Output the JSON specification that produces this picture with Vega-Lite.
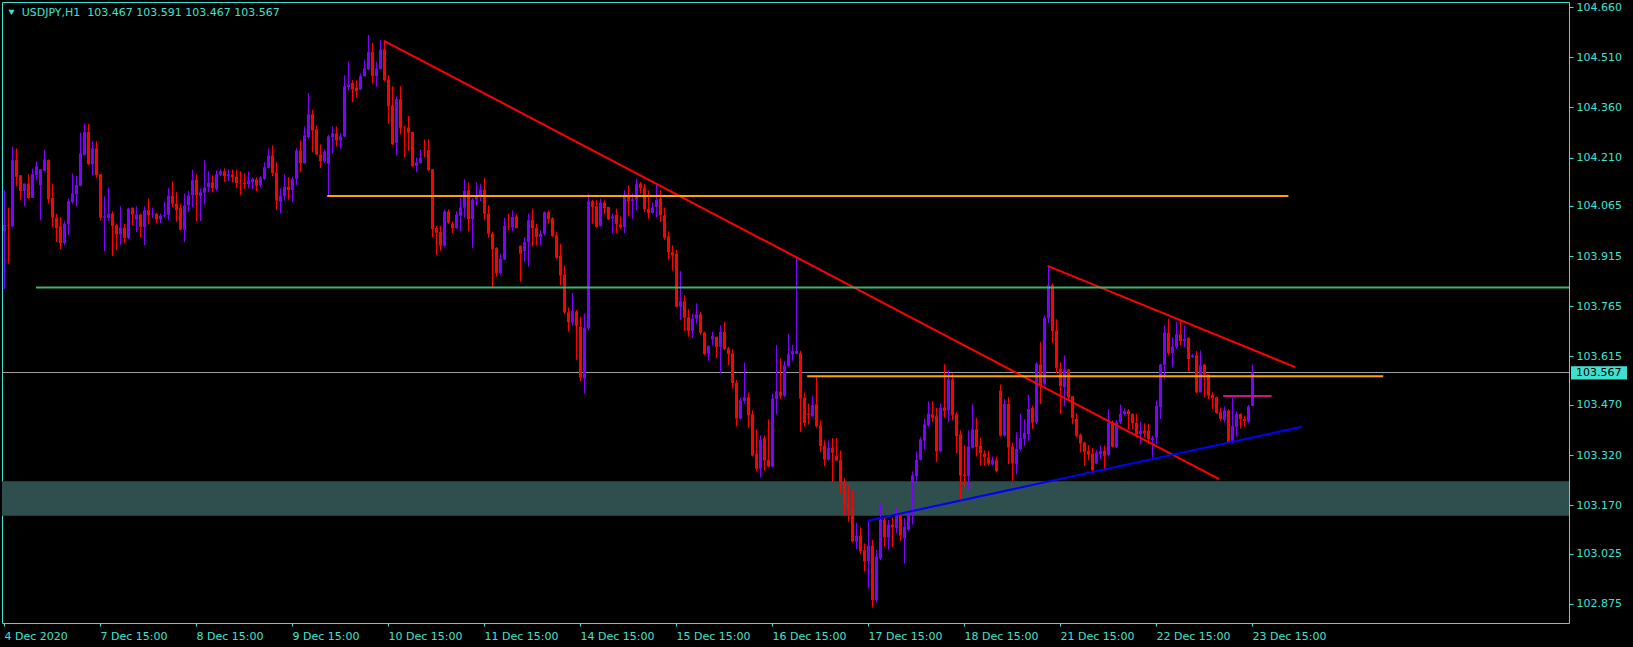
{
"$schema":"https://vega.github.io/schema/vega-lite/v6.json",
"width":1567,"height":621,
"autosize":{"type":"none"},
"padding":{"left":2,"top":2,"right":64,"bottom":24},
"background":"#000000",
"config":{"view":{"stroke":"#40E0D0","strokeWidth":1},"scale":{"continuousPadding":0},"axis":{"labelFont":"DejaVu Sans","labelFontSize":11,"labelColor":"#40E0D0","tickColor":"#40E0D0","domain":false,"grid":false,"title":null}},
"datasets":{
"candles":[
{"i":0,"o":103.989,"h":104.112,"l":103.817,"c":104.009},
{"i":1,"o":104.009,"h":104.060,"l":103.892,"c":104.006},
{"i":2,"o":104.004,"h":104.242,"l":104.002,"c":104.202},
{"i":3,"o":104.202,"h":104.237,"l":104.124,"c":104.152},
{"i":4,"o":104.157,"h":104.157,"l":104.082,"c":104.110},
{"i":5,"o":104.110,"h":104.132,"l":104.064,"c":104.132},
{"i":6,"o":104.132,"h":104.160,"l":104.086,"c":104.089},
{"i":7,"o":104.089,"h":104.177,"l":104.089,"c":104.160},
{"i":8,"o":104.157,"h":104.199,"l":104.142,"c":104.184},
{"i":9,"o":104.127,"h":104.175,"l":104.022,"c":104.175},
{"i":10,"o":104.170,"h":104.232,"l":104.170,"c":104.204},
{"i":11,"o":104.202,"h":104.204,"l":104.072,"c":104.085},
{"i":12,"o":104.089,"h":104.132,"l":104.002,"c":104.030},
{"i":13,"o":104.030,"h":104.042,"l":103.957,"c":103.999},
{"i":14,"o":104.004,"h":104.032,"l":103.936,"c":103.954},
{"i":15,"o":103.954,"h":104.019,"l":103.948,"c":104.012},
{"i":16,"o":104.011,"h":104.087,"l":103.978,"c":104.079},
{"i":17,"o":104.077,"h":104.162,"l":104.072,"c":104.102},
{"i":18,"o":104.100,"h":104.154,"l":104.064,"c":104.127},
{"i":19,"o":104.125,"h":104.284,"l":104.125,"c":104.222},
{"i":20,"o":104.217,"h":104.310,"l":104.217,"c":104.286},
{"i":21,"o":104.286,"h":104.310,"l":104.187,"c":104.190},
{"i":22,"o":104.190,"h":104.258,"l":104.157,"c":104.237},
{"i":23,"o":104.237,"h":104.258,"l":104.149,"c":104.157},
{"i":24,"o":104.160,"h":104.160,"l":104.022,"c":104.030},
{"i":25,"o":104.030,"h":104.094,"l":103.930,"c":104.034},
{"i":26,"o":104.030,"h":104.120,"l":104.020,"c":104.042},
{"i":27,"o":104.042,"h":104.049,"l":103.915,"c":104.005},
{"i":28,"o":104.007,"h":104.012,"l":103.933,"c":103.980},
{"i":29,"o":103.980,"h":104.064,"l":103.949,"c":104.000},
{"i":30,"o":104.000,"h":104.012,"l":103.954,"c":103.969},
{"i":31,"o":103.969,"h":104.060,"l":103.966,"c":104.057},
{"i":32,"o":104.060,"h":104.060,"l":104.008,"c":104.040},
{"i":33,"o":104.025,"h":104.064,"l":103.987,"c":104.040},
{"i":34,"o":104.040,"h":104.040,"l":103.972,"c":104.002},
{"i":35,"o":104.002,"h":104.064,"l":103.948,"c":104.052},
{"i":36,"o":104.052,"h":104.087,"l":104.010,"c":104.037},
{"i":37,"o":104.038,"h":104.060,"l":104.029,"c":104.040},
{"i":38,"o":104.042,"h":104.044,"l":104.013,"c":104.025},
{"i":39,"o":104.025,"h":104.042,"l":104.014,"c":104.036},
{"i":40,"o":104.036,"h":104.079,"l":104.030,"c":104.038},
{"i":41,"o":104.038,"h":104.118,"l":104.022,"c":104.096},
{"i":42,"o":104.096,"h":104.139,"l":104.062,"c":104.072},
{"i":43,"o":104.072,"h":104.106,"l":104.017,"c":104.052},
{"i":44,"o":104.059,"h":104.072,"l":103.992,"c":103.994},
{"i":45,"o":103.994,"h":104.102,"l":103.957,"c":104.066},
{"i":46,"o":104.067,"h":104.110,"l":104.047,"c":104.096},
{"i":47,"o":104.097,"h":104.174,"l":104.062,"c":104.142},
{"i":48,"o":104.144,"h":104.160,"l":104.020,"c":104.097},
{"i":49,"o":104.095,"h":104.118,"l":104.020,"c":104.106},
{"i":50,"o":104.105,"h":104.202,"l":104.069,"c":104.120},
{"i":51,"o":104.121,"h":104.169,"l":104.106,"c":104.135},
{"i":52,"o":104.136,"h":104.157,"l":104.106,"c":104.119},
{"i":53,"o":104.116,"h":104.172,"l":104.110,"c":104.160},
{"i":54,"o":104.159,"h":104.175,"l":104.154,"c":104.169},
{"i":55,"o":104.169,"h":104.177,"l":104.137,"c":104.154},
{"i":56,"o":104.155,"h":104.174,"l":104.140,"c":104.160},
{"i":57,"o":104.159,"h":104.174,"l":104.136,"c":104.151},
{"i":58,"o":104.153,"h":104.174,"l":104.121,"c":104.133},
{"i":59,"o":104.134,"h":104.168,"l":104.098,"c":104.132},
{"i":60,"o":104.135,"h":104.163,"l":104.116,"c":104.131},
{"i":61,"o":104.131,"h":104.168,"l":104.118,"c":104.141},
{"i":62,"o":104.136,"h":104.151,"l":104.116,"c":104.146},
{"i":63,"o":104.144,"h":104.151,"l":104.109,"c":104.126},
{"i":64,"o":104.127,"h":104.154,"l":104.121,"c":104.150},
{"i":65,"o":104.146,"h":104.196,"l":104.143,"c":104.181},
{"i":66,"o":104.179,"h":104.237,"l":104.178,"c":104.216},
{"i":67,"o":104.216,"h":104.246,"l":104.154,"c":104.163},
{"i":68,"o":104.165,"h":104.196,"l":104.054,"c":104.081},
{"i":69,"o":104.078,"h":104.118,"l":104.043,"c":104.096},
{"i":70,"o":104.094,"h":104.159,"l":104.081,"c":104.123},
{"i":71,"o":104.123,"h":104.151,"l":104.084,"c":104.113},
{"i":72,"o":104.113,"h":104.153,"l":104.076,"c":104.146},
{"i":73,"o":104.146,"h":104.238,"l":104.128,"c":104.231},
{"i":74,"o":104.231,"h":104.261,"l":104.166,"c":104.193},
{"i":75,"o":104.193,"h":104.303,"l":104.191,"c":104.276},
{"i":76,"o":104.271,"h":104.403,"l":104.266,"c":104.339},
{"i":77,"o":104.339,"h":104.353,"l":104.226,"c":104.291},
{"i":78,"o":104.294,"h":104.306,"l":104.217,"c":104.219},
{"i":79,"o":104.219,"h":104.249,"l":104.179,"c":104.199},
{"i":80,"o":104.199,"h":104.234,"l":104.193,"c":104.228},
{"i":81,"o":104.191,"h":104.278,"l":104.093,"c":104.273},
{"i":82,"o":104.271,"h":104.303,"l":104.223,"c":104.282},
{"i":83,"o":104.282,"h":104.303,"l":104.243,"c":104.261},
{"i":84,"o":104.261,"h":104.283,"l":104.236,"c":104.273},
{"i":85,"o":104.273,"h":104.456,"l":104.271,"c":104.423},
{"i":86,"o":104.421,"h":104.498,"l":104.411,"c":104.429},
{"i":87,"o":104.433,"h":104.441,"l":104.376,"c":104.414},
{"i":88,"o":104.419,"h":104.441,"l":104.389,"c":104.408},
{"i":89,"o":104.413,"h":104.461,"l":104.413,"c":104.453},
{"i":90,"o":104.453,"h":104.501,"l":104.453,"c":104.476},
{"i":91,"o":104.474,"h":104.576,"l":104.471,"c":104.525},
{"i":92,"o":104.525,"h":104.553,"l":104.431,"c":104.454},
{"i":93,"o":104.454,"h":104.496,"l":104.421,"c":104.476},
{"i":94,"o":104.475,"h":104.561,"l":104.473,"c":104.533},
{"i":95,"o":104.533,"h":104.559,"l":104.438,"c":104.441},
{"i":96,"o":104.443,"h":104.456,"l":104.310,"c":104.363},
{"i":97,"o":104.366,"h":104.423,"l":104.247,"c":104.250},
{"i":98,"o":104.254,"h":104.392,"l":104.217,"c":104.384},
{"i":99,"o":104.384,"h":104.423,"l":104.279,"c":104.299},
{"i":100,"o":104.302,"h":104.304,"l":104.210,"c":104.300},
{"i":101,"o":104.299,"h":104.334,"l":104.230,"c":104.284},
{"i":102,"o":104.286,"h":104.286,"l":104.182,"c":104.184},
{"i":103,"o":104.185,"h":104.210,"l":104.167,"c":104.195},
{"i":104,"o":104.194,"h":104.234,"l":104.192,"c":104.209},
{"i":105,"o":104.232,"h":104.264,"l":104.210,"c":104.230},
{"i":106,"o":104.232,"h":104.265,"l":104.170,"c":104.172},
{"i":107,"o":104.175,"h":104.175,"l":103.971,"c":103.996},
{"i":108,"o":103.999,"h":104.006,"l":103.918,"c":103.985},
{"i":109,"o":103.987,"h":104.005,"l":103.931,"c":103.946},
{"i":110,"o":103.946,"h":104.053,"l":103.941,"c":104.048},
{"i":111,"o":104.048,"h":104.055,"l":104.011,"c":104.015},
{"i":112,"o":104.012,"h":104.019,"l":103.984,"c":103.999},
{"i":113,"o":103.999,"h":104.049,"l":103.997,"c":104.039},
{"i":114,"o":104.035,"h":104.089,"l":103.989,"c":104.060},
{"i":115,"o":104.060,"h":104.145,"l":104.030,"c":104.110},
{"i":116,"o":104.112,"h":104.135,"l":103.989,"c":104.026},
{"i":117,"o":104.026,"h":104.089,"l":103.939,"c":104.084},
{"i":118,"o":104.084,"h":104.135,"l":104.065,"c":104.092},
{"i":119,"o":104.092,"h":104.130,"l":104.080,"c":104.114},
{"i":120,"o":104.114,"h":104.150,"l":104.022,"c":104.042},
{"i":121,"o":104.042,"h":104.067,"l":103.970,"c":103.982},
{"i":122,"o":103.982,"h":103.989,"l":103.822,"c":103.935},
{"i":123,"o":103.940,"h":103.942,"l":103.854,"c":103.864},
{"i":124,"o":103.864,"h":103.922,"l":103.860,"c":103.907},
{"i":125,"o":103.905,"h":104.030,"l":103.904,"c":104.006},
{"i":126,"o":104.004,"h":104.042,"l":103.992,"c":104.002},
{"i":127,"o":104.002,"h":104.052,"l":103.989,"c":104.032},
{"i":128,"o":104.034,"h":104.040,"l":103.999,"c":103.999},
{"i":129,"o":103.946,"h":103.947,"l":103.839,"c":103.922},
{"i":130,"o":103.930,"h":103.972,"l":103.899,"c":103.957},
{"i":131,"o":103.957,"h":104.042,"l":103.884,"c":104.022},
{"i":132,"o":104.024,"h":104.057,"l":103.944,"c":103.999},
{"i":133,"o":104.000,"h":104.012,"l":103.947,"c":103.972},
{"i":134,"o":103.972,"h":103.992,"l":103.947,"c":103.982},
{"i":135,"o":103.982,"h":104.049,"l":103.977,"c":104.046},
{"i":136,"o":104.046,"h":104.052,"l":104.012,"c":104.026},
{"i":137,"o":104.028,"h":104.032,"l":103.972,"c":103.975},
{"i":138,"o":103.977,"h":103.987,"l":103.907,"c":103.910},
{"i":139,"o":103.916,"h":103.952,"l":103.827,"c":103.857},
{"i":140,"o":103.860,"h":103.887,"l":103.742,"c":103.747},
{"i":141,"o":103.747,"h":103.762,"l":103.689,"c":103.717},
{"i":142,"o":103.717,"h":103.805,"l":103.707,"c":103.751},
{"i":143,"o":103.749,"h":103.754,"l":103.605,"c":103.707},
{"i":144,"o":103.704,"h":103.734,"l":103.540,"c":103.552},
{"i":145,"o":103.549,"h":103.744,"l":103.504,"c":103.700},
{"i":146,"o":103.700,"h":104.100,"l":103.694,"c":104.079},
{"i":147,"o":104.079,"h":104.084,"l":104.012,"c":104.062},
{"i":148,"o":104.064,"h":104.082,"l":104.000,"c":104.002},
{"i":149,"o":104.005,"h":104.087,"l":104.004,"c":104.075},
{"i":150,"o":104.075,"h":104.082,"l":104.040,"c":104.059},
{"i":151,"o":104.062,"h":104.062,"l":104.024,"c":104.025},
{"i":152,"o":104.028,"h":104.042,"l":103.984,"c":104.034},
{"i":153,"o":104.039,"h":104.057,"l":103.984,"c":104.011},
{"i":154,"o":104.010,"h":104.034,"l":103.996,"c":104.001},
{"i":155,"o":104.002,"h":104.112,"l":103.984,"c":104.099},
{"i":156,"o":104.099,"h":104.127,"l":104.034,"c":104.079},
{"i":157,"o":104.079,"h":104.102,"l":104.027,"c":104.085},
{"i":158,"o":104.084,"h":104.147,"l":104.052,"c":104.130},
{"i":159,"o":104.132,"h":104.137,"l":104.102,"c":104.119},
{"i":160,"o":104.120,"h":104.132,"l":104.047,"c":104.055},
{"i":161,"o":104.057,"h":104.112,"l":104.027,"c":104.044},
{"i":162,"o":104.044,"h":104.075,"l":104.042,"c":104.060},
{"i":163,"o":104.062,"h":104.132,"l":104.032,"c":104.084},
{"i":164,"o":104.087,"h":104.112,"l":104.017,"c":104.037},
{"i":165,"o":104.037,"h":104.060,"l":103.964,"c":103.970},
{"i":166,"o":103.974,"h":103.989,"l":103.905,"c":103.927},
{"i":167,"o":103.927,"h":103.947,"l":103.872,"c":103.917},
{"i":168,"o":103.922,"h":103.934,"l":103.762,"c":103.764},
{"i":169,"o":103.764,"h":103.870,"l":103.724,"c":103.780},
{"i":170,"o":103.780,"h":103.798,"l":103.691,"c":103.731},
{"i":171,"o":103.732,"h":103.756,"l":103.674,"c":103.692},
{"i":172,"o":103.692,"h":103.743,"l":103.671,"c":103.728},
{"i":173,"o":103.728,"h":103.774,"l":103.713,"c":103.741},
{"i":174,"o":103.741,"h":103.748,"l":103.681,"c":103.686},
{"i":175,"o":103.686,"h":103.689,"l":103.619,"c":103.622},
{"i":176,"o":103.624,"h":103.649,"l":103.602,"c":103.646},
{"i":177,"o":103.666,"h":103.689,"l":103.649,"c":103.676},
{"i":178,"o":103.674,"h":103.674,"l":103.611,"c":103.644},
{"i":179,"o":103.644,"h":103.708,"l":103.564,"c":103.688},
{"i":180,"o":103.688,"h":103.718,"l":103.634,"c":103.637},
{"i":181,"o":103.639,"h":103.644,"l":103.589,"c":103.622},
{"i":182,"o":103.624,"h":103.636,"l":103.519,"c":103.536},
{"i":183,"o":103.536,"h":103.544,"l":103.406,"c":103.429},
{"i":184,"o":103.429,"h":103.491,"l":103.426,"c":103.484},
{"i":185,"o":103.482,"h":103.597,"l":103.474,"c":103.493},
{"i":186,"o":103.493,"h":103.507,"l":103.401,"c":103.439},
{"i":187,"o":103.442,"h":103.454,"l":103.316,"c":103.319},
{"i":188,"o":103.324,"h":103.397,"l":103.271,"c":103.280},
{"i":189,"o":103.280,"h":103.379,"l":103.254,"c":103.366},
{"i":190,"o":103.371,"h":103.379,"l":103.274,"c":103.304},
{"i":191,"o":103.306,"h":103.427,"l":103.284,"c":103.286},
{"i":192,"o":103.286,"h":103.504,"l":103.284,"c":103.489},
{"i":193,"o":103.488,"h":103.649,"l":103.442,"c":103.511},
{"i":194,"o":103.509,"h":103.609,"l":103.489,"c":103.497},
{"i":195,"o":103.497,"h":103.602,"l":103.494,"c":103.589},
{"i":196,"o":103.587,"h":103.682,"l":103.584,"c":103.622},
{"i":197,"o":103.621,"h":103.649,"l":103.602,"c":103.631},
{"i":198,"o":103.623,"h":103.911,"l":103.622,"c":103.631},
{"i":199,"o":103.624,"h":103.632,"l":103.389,"c":103.489},
{"i":200,"o":103.492,"h":103.507,"l":103.406,"c":103.416},
{"i":201,"o":103.444,"h":103.474,"l":103.412,"c":103.439},
{"i":202,"o":103.437,"h":103.496,"l":103.434,"c":103.469},
{"i":203,"o":103.472,"h":103.554,"l":103.402,"c":103.406},
{"i":204,"o":103.409,"h":103.424,"l":103.329,"c":103.347},
{"i":205,"o":103.348,"h":103.364,"l":103.287,"c":103.307},
{"i":206,"o":103.306,"h":103.364,"l":103.304,"c":103.341},
{"i":207,"o":103.341,"h":103.371,"l":103.239,"c":103.327},
{"i":208,"o":103.318,"h":103.371,"l":103.302,"c":103.304},
{"i":209,"o":103.306,"h":103.334,"l":103.204,"c":103.236},
{"i":210,"o":103.239,"h":103.251,"l":103.142,"c":103.174},
{"i":211,"o":103.179,"h":103.231,"l":103.121,"c":103.161},
{"i":212,"o":103.161,"h":103.214,"l":103.059,"c":103.062},
{"i":213,"o":103.061,"h":103.118,"l":103.039,"c":103.079},
{"i":214,"o":103.079,"h":103.104,"l":103.024,"c":103.032},
{"i":215,"o":103.036,"h":103.056,"l":102.972,"c":103.002},
{"i":216,"o":103.004,"h":103.121,"l":102.921,"c":103.049},
{"i":217,"o":103.049,"h":103.066,"l":102.864,"c":102.887},
{"i":218,"o":102.887,"h":103.037,"l":102.879,"c":103.016},
{"i":219,"o":103.011,"h":103.174,"l":103.006,"c":103.126},
{"i":220,"o":103.126,"h":103.134,"l":103.046,"c":103.074},
{"i":221,"o":103.074,"h":103.126,"l":103.037,"c":103.112},
{"i":222,"o":103.112,"h":103.134,"l":103.044,"c":103.104},
{"i":223,"o":103.102,"h":103.161,"l":103.087,"c":103.139},
{"i":224,"o":103.139,"h":103.146,"l":103.064,"c":103.079},
{"i":225,"o":103.071,"h":103.131,"l":102.996,"c":103.106},
{"i":226,"o":103.097,"h":103.149,"l":103.094,"c":103.144},
{"i":227,"o":103.144,"h":103.271,"l":103.112,"c":103.259},
{"i":228,"o":103.257,"h":103.331,"l":103.239,"c":103.306},
{"i":229,"o":103.306,"h":103.374,"l":103.304,"c":103.367},
{"i":230,"o":103.364,"h":103.429,"l":103.337,"c":103.412},
{"i":231,"o":103.409,"h":103.481,"l":103.404,"c":103.444},
{"i":232,"o":103.442,"h":103.481,"l":103.419,"c":103.432},
{"i":233,"o":103.436,"h":103.461,"l":103.299,"c":103.331},
{"i":234,"o":103.331,"h":103.474,"l":103.329,"c":103.462},
{"i":235,"o":103.462,"h":103.592,"l":103.432,"c":103.452},
{"i":236,"o":103.454,"h":103.574,"l":103.419,"c":103.546},
{"i":237,"o":103.546,"h":103.564,"l":103.424,"c":103.439},
{"i":238,"o":103.442,"h":103.449,"l":103.326,"c":103.377},
{"i":239,"o":103.382,"h":103.394,"l":103.187,"c":103.259},
{"i":240,"o":103.262,"h":103.349,"l":103.227,"c":103.257},
{"i":241,"o":103.257,"h":103.394,"l":103.219,"c":103.346},
{"i":242,"o":103.342,"h":103.472,"l":103.339,"c":103.397},
{"i":243,"o":103.397,"h":103.431,"l":103.316,"c":103.344},
{"i":244,"o":103.348,"h":103.372,"l":103.289,"c":103.326},
{"i":245,"o":103.324,"h":103.334,"l":103.289,"c":103.314},
{"i":246,"o":103.313,"h":103.334,"l":103.289,"c":103.294},
{"i":247,"o":103.292,"h":103.316,"l":103.289,"c":103.305},
{"i":248,"o":103.304,"h":103.316,"l":103.269,"c":103.272},
{"i":249,"o":103.513,"h":103.531,"l":103.375,"c":103.378},
{"i":250,"o":103.378,"h":103.488,"l":103.375,"c":103.473},
{"i":251,"o":103.473,"h":103.493,"l":103.293,"c":103.343},
{"i":252,"o":103.345,"h":103.358,"l":103.243,"c":103.295},
{"i":253,"o":103.293,"h":103.388,"l":103.263,"c":103.338},
{"i":254,"o":103.338,"h":103.443,"l":103.333,"c":103.371},
{"i":255,"o":103.368,"h":103.428,"l":103.348,"c":103.387},
{"i":256,"o":103.383,"h":103.500,"l":103.363,"c":103.458},
{"i":257,"o":103.461,"h":103.468,"l":103.398,"c":103.418},
{"i":258,"o":103.418,"h":103.598,"l":103.413,"c":103.593},
{"i":259,"o":103.591,"h":103.658,"l":103.473,"c":103.528},
{"i":260,"o":103.533,"h":103.738,"l":103.528,"c":103.731},
{"i":261,"o":103.730,"h":103.886,"l":103.715,"c":103.828},
{"i":262,"o":103.828,"h":103.833,"l":103.655,"c":103.691},
{"i":263,"o":103.693,"h":103.726,"l":103.565,"c":103.581},
{"i":264,"o":103.578,"h":103.598,"l":103.443,"c":103.526},
{"i":265,"o":103.523,"h":103.618,"l":103.466,"c":103.576},
{"i":266,"o":103.576,"h":103.578,"l":103.483,"c":103.493},
{"i":267,"o":103.496,"h":103.496,"l":103.413,"c":103.431},
{"i":268,"o":103.428,"h":103.446,"l":103.373,"c":103.378},
{"i":269,"o":103.381,"h":103.385,"l":103.328,"c":103.355},
{"i":270,"o":103.358,"h":103.360,"l":103.288,"c":103.330},
{"i":271,"o":103.333,"h":103.350,"l":103.305,"c":103.322},
{"i":272,"o":103.325,"h":103.341,"l":103.268,"c":103.275},
{"i":273,"o":103.295,"h":103.336,"l":103.293,"c":103.328},
{"i":274,"o":103.323,"h":103.348,"l":103.308,"c":103.333},
{"i":275,"o":103.333,"h":103.348,"l":103.275,"c":103.318},
{"i":276,"o":103.320,"h":103.458,"l":103.316,"c":103.416},
{"i":277,"o":103.418,"h":103.423,"l":103.343,"c":103.345},
{"i":278,"o":103.343,"h":103.425,"l":103.341,"c":103.418},
{"i":279,"o":103.418,"h":103.471,"l":103.413,"c":103.443},
{"i":280,"o":103.443,"h":103.460,"l":103.438,"c":103.451},
{"i":281,"o":103.453,"h":103.458,"l":103.398,"c":103.443},
{"i":282,"o":103.443,"h":103.445,"l":103.398,"c":103.415},
{"i":283,"o":103.416,"h":103.443,"l":103.373,"c":103.383},
{"i":284,"o":103.383,"h":103.421,"l":103.353,"c":103.393},
{"i":285,"o":103.393,"h":103.415,"l":103.373,"c":103.385},
{"i":286,"o":103.393,"h":103.413,"l":103.353,"c":103.368},
{"i":287,"o":103.365,"h":103.378,"l":103.313,"c":103.371},
{"i":288,"o":103.373,"h":103.483,"l":103.353,"c":103.468},
{"i":289,"o":103.463,"h":103.593,"l":103.428,"c":103.591},
{"i":290,"o":103.590,"h":103.708,"l":103.548,"c":103.686},
{"i":291,"o":103.686,"h":103.728,"l":103.618,"c":103.625},
{"i":292,"o":103.625,"h":103.673,"l":103.583,"c":103.645},
{"i":293,"o":103.643,"h":103.718,"l":103.638,"c":103.681},
{"i":294,"o":103.681,"h":103.723,"l":103.648,"c":103.661},
{"i":295,"o":103.661,"h":103.708,"l":103.643,"c":103.668},
{"i":296,"o":103.671,"h":103.671,"l":103.571,"c":103.607},
{"i":297,"o":103.613,"h":103.623,"l":103.611,"c":103.618},
{"i":298,"o":103.618,"h":103.631,"l":103.505,"c":103.508},
{"i":299,"o":103.508,"h":103.633,"l":103.508,"c":103.588},
{"i":300,"o":103.591,"h":103.591,"l":103.493,"c":103.561},
{"i":301,"o":103.561,"h":103.561,"l":103.488,"c":103.498},
{"i":302,"o":103.501,"h":103.508,"l":103.458,"c":103.490},
{"i":303,"o":103.493,"h":103.495,"l":103.443,"c":103.446},
{"i":304,"o":103.448,"h":103.463,"l":103.423,"c":103.428},
{"i":305,"o":103.425,"h":103.466,"l":103.418,"c":103.453},
{"i":306,"o":103.453,"h":103.458,"l":103.355,"c":103.358},
{"i":307,"o":103.358,"h":103.491,"l":103.355,"c":103.407},
{"i":308,"o":103.405,"h":103.450,"l":103.375,"c":103.442},
{"i":309,"o":103.443,"h":103.445,"l":103.400,"c":103.428},
{"i":310,"o":103.428,"h":103.437,"l":103.405,"c":103.422},
{"i":311,"o":103.420,"h":103.470,"l":103.415,"c":103.466},
{"i":312,"o":103.467,"h":103.591,"l":103.467,"c":103.567}
],
"lines":[
{"name":"down1","i":95,"p":104.559},{"name":"down1","i":303.8,"p":103.248},
{"name":"down2","i":260.9,"p":103.886},{"name":"down2","i":322.8,"p":103.583},
{"name":"res1","i":80.8,"p":104.095},{"name":"res1","i":321.1,"p":104.095},
{"name":"res2","i":200.8,"p":103.556},{"name":"res2","i":344.8,"p":103.556},
{"name":"sup","i":8,"p":103.821},{"name":"sup","i":391.25,"p":103.821},
{"name":"up","i":215.9,"p":103.124},{"name":"up","i":324.5,"p":103.405},
{"name":"mark","i":304.8,"p":103.497},{"name":"mark","i":316.9,"p":103.497}
]
},
"layer":[
{"data":{"values":[{"top":103.242,"bottom":103.139}]},
 "mark":{"type":"rect","color":"#2F4F4F"},
 "encoding":{
  "x":{"datum":-0.5,"type":"quantitative","scale":{"domain":[-0.5,391.25],"nice":false,"zero":false,"padding":0},
   "axis":{"values":[0,24,48,72,96,120,144,168,192,216,240,264,288,312],
    "labelExpr":"['4 Dec 2020','7 Dec 15:00','8 Dec 15:00','9 Dec 15:00','10 Dec 15:00','11 Dec 15:00','14 Dec 15:00','15 Dec 15:00','16 Dec 15:00','17 Dec 15:00','18 Dec 15:00','21 Dec 15:00','22 Dec 15:00','23 Dec 15:00'][round(datum.value/24)]",
    "labelAlign":"left","labelBaseline":"top","labelPadding":4,"tickSize":3,"title":null,"labelOverlap":false,"labelFlush":false,"domain":false,"grid":false}},
  "x2":{"datum":391.25},
  "y":{"field":"top","type":"quantitative","scale":{"domain":[102.818,104.675],"nice":false,"zero":false,"padding":0},
   "axis":{"orient":"right","values":[104.66,104.51,104.36,104.21,104.065,103.915,103.765,103.615,103.47,103.32,103.17,103.025,102.875],"format":".3f","tickSize":4,"labelPadding":3,"title":null,"labelOverlap":false,"labelFlush":false,"domain":false,"grid":false}},
  "y2":{"field":"bottom"}}},
{"data":{"values":[{"p":103.567}]},
 "mark":{"type":"rule","color":"#A0A0A0","strokeWidth":1},
 "encoding":{"y":{"field":"p","type":"quantitative","title":null}}},
{"data":{"name":"candles"},
 "mark":{"type":"rule","strokeWidth":1,"xOffset":0.5},
 "encoding":{
  "x":{"field":"i","type":"quantitative","title":null},
  "y":{"field":"l","type":"quantitative","title":null},
  "y2":{"field":"h"},
  "color":{"condition":{"test":"datum.c >= datum.o","value":"#8000FF"},"value":"#FF0000"}}},
{"data":{"name":"candles"},
 "mark":{"type":"bar","size":3,"xOffset":0.5},
 "encoding":{
  "x":{"field":"i","type":"quantitative","title":null},
  "y":{"field":"o","type":"quantitative","title":null},
  "y2":{"field":"c"},
  "color":{"condition":{"test":"datum.c >= datum.o","value":"#8000FF"},"value":"#FF0000"}}},
{"data":{"name":"lines"},
 "mark":{"type":"line","strokeWidth":2},
 "encoding":{
  "x":{"field":"i","type":"quantitative","title":null},
  "y":{"field":"p","type":"quantitative","title":null},
  "detail":{"field":"name"},
  "color":{"field":"name","type":"nominal","legend":null,"scale":{"domain":["down1","down2","res1","res2","sup","up","mark"],"range":["#FF0000","#FF0000","#FFA500","#FFA500","#3CB371","#0000FF","#C71585"]}}}},
{"data":{"values":[{"p":103.567}]},
 "mark":{"type":"rect","color":"#40E0D0"},
 "encoding":{"x":{"datum":391.75,"type":"quantitative"},"x2":{"datum":405.75},"y":{"datum":103.586,"type":"quantitative"},"y2":{"datum":103.546}}},
{"data":{"values":[{"p":103.567,"t":"103.567"}]},
 "mark":{"type":"text","align":"left","baseline":"middle","font":"DejaVu Sans","fontSize":11,"color":"#000000"},
 "encoding":{"x":{"datum":393,"type":"quantitative"},"y":{"field":"p","type":"quantitative","title":null},"text":{"field":"t"}}},
{"data":{"values":[{"t":"USDJPY,H1\u00a0\u00a0103.467 103.591 103.467 103.567"}]},
 "mark":{"type":"text","align":"left","baseline":"middle","font":"DejaVu Sans","fontSize":11,"color":"#40E0D0"},
 "encoding":{"x":{"datum":4.425,"type":"quantitative"},"y":{"datum":104.643,"type":"quantitative"},"text":{"field":"t"}}},
{"data":{"values":[{"s":"menu"}]},
 "mark":{"type":"point","shape":"triangle-down","filled":true,"size":40,"color":"#40E0D0","opacity":1},
 "encoding":{"x":{"datum":1.875,"type":"quantitative"},"y":{"datum":104.644,"type":"quantitative"}}}
]
}
